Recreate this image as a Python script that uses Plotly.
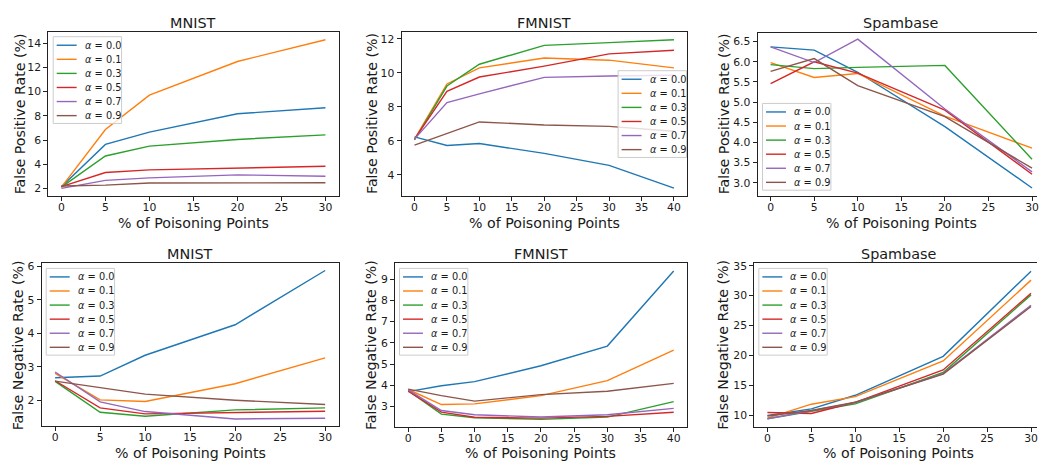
import plotly.graph_objects as go

W, H = 1039, 463

labels = ["<i>α</i> = 0.0", "<i>α</i> = 0.1", "<i>α</i> = 0.3", "<i>α</i> = 0.5", "<i>α</i> = 0.7", "<i>α</i> = 0.9"]
colors = ["#1f77b4", "#ff7f0e", "#2ca02c", "#d62728", "#9467bd", "#8c564b"]

x30 = [0, 5, 10, 20, 30]
x40 = [0, 5, 10, 20, 30, 40]

mnist_fpr = [
    [2.14, 5.64, 6.65, 8.18, 8.67],
    [2.10, 6.87, 9.71, 12.50, 14.30],
    [2.10, 4.68, 5.50, 6.05, 6.43],
    [2.15, 3.31, 3.53, 3.67, 3.83],
    [2.00, 2.66, 2.87, 3.12, 3.01],
    [2.20, 2.27, 2.44, 2.44, 2.46],
]
fmnist_fpr = [
    [6.23, 5.73, 5.84, 5.26, 4.56, 3.22],
    [6.10, 9.34, 10.29, 10.87, 10.74, 10.29],
    [6.05, 9.22, 10.50, 11.61, 11.77, 11.94],
    [6.10, 8.91, 9.75, 10.39, 11.11, 11.32],
    [6.10, 8.25, 8.76, 9.73, 9.81, 9.85],
    [5.75, 6.41, 7.11, 6.93, 6.85, 6.56],
]
spam_fpr = [
    [6.37, 6.29, 5.74, 4.39, 2.87],
    [5.98, 5.61, 5.71, 4.65, 3.86],
    [5.93, 5.83, 5.86, 5.91, 3.58],
    [5.46, 6.00, 5.72, 4.80, 3.21],
    [6.37, 5.98, 6.56, 4.83, 3.27],
    [5.76, 6.08, 5.41, 4.64, 3.36],
]
mnist_fnr = [
    [2.68, 2.73, 3.35, 4.26, 5.88],
    [2.81, 2.02, 1.97, 2.50, 3.27],
    [2.57, 1.65, 1.53, 1.72, 1.78],
    [2.59, 1.78, 1.60, 1.65, 1.68],
    [2.85, 1.96, 1.67, 1.45, 1.47],
    [2.58, 2.39, 2.19, 2.01, 1.88],
]
fmnist_fnr = [
    [3.70, 3.98, 4.17, 4.92, 5.85, 9.39],
    [3.80, 3.09, 3.12, 3.51, 4.22, 5.66],
    [3.75, 2.64, 2.47, 2.39, 2.50, 3.23],
    [3.72, 2.73, 2.49, 2.45, 2.53, 2.73],
    [3.78, 2.81, 2.61, 2.50, 2.61, 2.91],
    [3.82, 3.51, 3.25, 3.56, 3.72, 4.09],
]
spam_fnr = [
    [10.00, 11.10, 13.37, 19.88, 34.10],
    [9.56, 11.88, 13.15, 19.10, 32.60],
    [9.45, 10.66, 11.93, 17.17, 30.14],
    [10.50, 10.33, 12.20, 17.60, 30.40],
    [9.45, 10.77, 12.15, 17.00, 28.40],
    [9.90, 10.83, 12.20, 16.90, 28.20],
]

titles = ["MNIST", "FMNIST", "Spambase", "MNIST", "FMNIST", "Spambase"]
ytitles = ["False Positive Rate (%)"] * 3 + ["False Negative Rate (%)"] * 3
xtitle = "% of Poisoning Points"

panels = [
    dict(x=x30, ys=mnist_fpr, dom=(48.3, 339.3, 28, 193.3), xr=[-1.5, 31.5], yr=[1.40, 14.96], dy=2, fmt="", clip=False, cx=193.8, ytx=19.7, leg=(53.3, 33)),
    dict(x=x40, ys=fmnist_fpr, dom=(402.3, 688.3, 28, 193.3), xr=[-2, 42], yr=[2.78, 12.41], dy=2, fmt="", clip=False, cx=545.3, ytx=372.0, leg=(619.3, 67.3)),
    dict(x=x30, ys=spam_fpr, dom=(759.0, 1039, 29, 193.3), xr=[-1.5, 30.57], yr=[2.68, 6.72], dy=0.5, fmt=".1f", clip=True, cx=903.0, ytx=725.5, leg=(764.0, 100.3)),
    dict(x=x30, ys=mnist_fnr, dom=(41.7, 339.3, 261.7, 426.0), xr=[-1.5, 31.5], yr=[1.23, 6.09], dy=1, fmt="", clip=False, cx=190.5, ytx=17.5, leg=(46.3, 266.7)),
    dict(x=x40, ys=fmnist_fnr, dom=(395.7, 688.3, 261.7, 426.7), xr=[-2, 42], yr=[2.03, 9.75], dy=1, fmt="", clip=False, cx=542.0, ytx=371.5, leg=(400.3, 266.7)),
    dict(x=x30, ys=spam_fnr, dom=(755.7, 1039, 261.7, 426.7), xr=[-1.5, 30.68], yr=[8.07, 35.39], dy=5, fmt="", clip=True, cx=900.5, ytx=725.0, leg=(760.3, 266.7)),
]

FONT = "DejaVu Sans"
TXT = "#1a1a1a"


def fx(px):
    return px / W


def fy(py):
    return 1 - py / H


fig = go.Figure()
shapes = []
annotations = []
layout = dict(
    width=W, height=H,
    margin=dict(l=0, r=0, t=0, b=0, pad=0),
    paper_bgcolor="white", plot_bgcolor="white",
    showlegend=False,
    font=dict(family=FONT, color=TXT, size=10),
)

for i, p in enumerate(panels):
    n = "" if i == 0 else str(i + 1)
    xa, ya = "x" + n, "y" + n
    for k, yv in enumerate(p["ys"]):
        fig.add_trace(go.Scatter(
            x=p["x"], y=yv, mode="lines", name=labels[k],
            line=dict(color=colors[k], width=1.4),
            xaxis=xa, yaxis=ya, hoverinfo="skip",
        ))
    x0, x1, y0, y1 = p["dom"]
    layout["xaxis" + n] = dict(
        domain=[fx(x0), min(1.0, fx(x1))], anchor=ya, range=p["xr"],
        tickmode="linear", tick0=0, dtick=5,
        ticks="outside", ticklen=4, tickwidth=1, tickcolor="#222",
        showline=True, linecolor="#222", linewidth=1, mirror=True,
        showgrid=False, zeroline=False, ticklabeloverflow="allow",
        ticklabelstandoff=-3,
        tickfont=dict(family=FONT, size=10.8, color=TXT),
    )
    layout["yaxis" + n] = dict(
        domain=[fy(y1), fy(y0)], anchor=xa, range=p["yr"],
        tickmode="linear", tick0=0, dtick=p["dy"], tickformat=p["fmt"],
        ticks="outside", ticklen=4, tickwidth=1, tickcolor="#222",
        showline=True, linecolor="#222", linewidth=1, mirror=(not p["clip"]),
        showgrid=False, zeroline=False,
        tickfont=dict(family=FONT, size=10.8, color=TXT),
    )
    top_row = i < 3
    # panel title
    annotations.append(dict(
        text=titles[i], x=fx(p["cx"]), y=fy(19.5 if top_row else 251.7), xref="paper", yref="paper",
        xanchor="center", yanchor="middle", showarrow=False,
        font=dict(family=FONT, size=14.4, color=TXT),
    ))
    # x axis title
    annotations.append(dict(
        text=xtitle, x=fx(p["cx"]), y=fy(221.0 if top_row else 452.5), xref="paper", yref="paper",
        xanchor="center", yanchor="middle", showarrow=False, borderpad=0,
        font=dict(family=FONT, size=14.2, color=TXT),
    ))
    # y axis title
    annotations.append(dict(
        text=ytitles[i], x=fx(p["ytx"]), y=fy((y0 + y1) / 2), xref="paper", yref="paper",
        xanchor="center", yanchor="middle", showarrow=False, textangle=-90, borderpad=0,
        font=dict(family=FONT, size=14.2, color=TXT),
    ))
    # legend box
    lx, ly = p["leg"]
    bw, bh = 68.5, 87.5
    shapes.append(dict(
        type="rect", xref="paper", yref="paper",
        x0=fx(lx), x1=fx(lx + bw), y0=fy(ly + bh), y1=fy(ly),
        fillcolor="rgba(255,255,255,0.8)", line=dict(color="#cccccc", width=1),
        layer="above",
    ))
    for k in range(len(labels)):
        ry = ly + 8.6 + 14.2 * k
        shapes.append(dict(
            type="line", xref="paper", yref="paper",
            x0=fx(lx + 3.5), x1=fx(lx + 23.5), y0=fy(ry), y1=fy(ry),
            line=dict(color=colors[k], width=1.4), layer="above",
        ))
        annotations.append(dict(
            text=labels[k], x=fx(lx + 30.5), y=fy(ry), xref="paper", yref="paper",
            xanchor="left", yanchor="middle", showarrow=False, borderpad=0,
            font=dict(family=FONT, size=9.8, color=TXT),
        ))

layout["shapes"] = shapes
layout["annotations"] = annotations
fig.update_layout(**layout)
fig.write_html("out.html")
